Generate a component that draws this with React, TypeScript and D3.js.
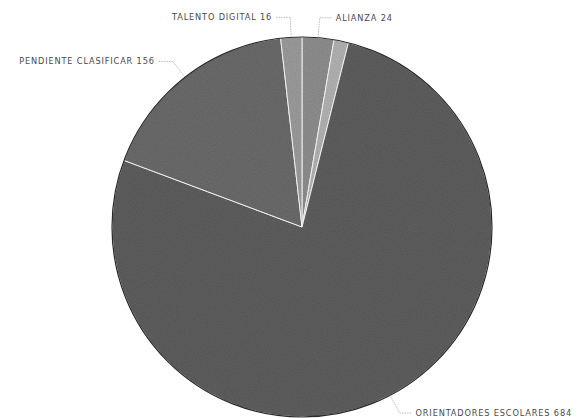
import React from "react";
import * as d3 from "d3";

const categories = ["ALIANZA", "OTROS", "ORIENTADORES ESCOLARES", "PENDIENTE CLASIFICAR", "TALENTO DIGITAL"];
const values = [24, 11, 684, 156, 16];
const showLabel = [true, false, true, true, true];
const colors = ["#939393", "#b8b8b8", "#626262", "#6e6e6e", "#a0a0a0"];

const W = 579;
const H = 418;
const cx = 302;
const cy = 227;
const R = 190;

export default function App() {
  const data = categories.map((c, i) => ({ name: c, value: values[i], i }));
  const pie = d3.pie<any>().value((d) => d.value).sort(null);
  const arcs = pie(data);
  const arc = d3.arc<any>().innerRadius(0).outerRadius(R);
  const outer = 210;
  return (
    <div style={{ position: "absolute", left: 0, top: 0, width: W, height: H, background: "#fff" }}>
      <svg width={W} height={H} style={{ display: "block" }}>
        <defs>
          <filter id="grain" x="0" y="0" width="100%" height="100%">
            <feTurbulence type="fractalNoise" baseFrequency="0.9" numOctaves="1" seed="3" result="n" />
            <feColorMatrix in="n" type="matrix" values="0 0 0 0 0  0 0 0 0 0  0 0 0 0 0  0 0 0 0.3 0" result="na" />
            <feComposite in="na" in2="SourceGraphic" operator="in" result="nc" />
            <feMerge>
              <feMergeNode in="SourceGraphic" />
              <feMergeNode in="nc" />
            </feMerge>
          </filter>
        </defs>
        <g transform={`translate(${cx},${cy})`}>
          <g filter="url(#grain)">
            {arcs.map((a, k) => (
              <path key={k} d={arc(a) as string} fill={colors[a.data.i]} stroke="#fff" strokeWidth={1} />
            ))}
          </g>
          <circle r={R} fill="none" stroke="#2a2a2a" strokeWidth={1.2} />
          {arcs.map((a, k) => {
            if (!showLabel[a.data.i]) return null;
            const mid = (a.startAngle + a.endAngle) / 2;
            const sx = Math.sin(mid) * R;
            const sy = -Math.cos(mid) * R;
            const ex = Math.sin(mid) * outer;
            const ey = -Math.cos(mid) * outer;
            const right = Math.sin(mid) >= 0;
            const hx = ex + (right ? 12 : -14);
            const tx = hx + (right ? 4 : -4);
            return (
              <g key={"l" + k}>
                <polyline
                  points={`${sx},${sy} ${ex},${ey} ${hx},${ey}`}
                  fill="none"
                  stroke="#aaa"
                  strokeWidth={0.8}
                  strokeDasharray="1.5,1"
                />
                <text
                  x={tx}
                  y={ey}
                  dy="0.35em"
                  textAnchor={right ? "start" : "end"}
                  fontFamily="'DejaVu Sans', sans-serif"
                  fontSize={8.2}
                  letterSpacing={0.85}
                  fill="#4a4a4a"
                >
                  {`${a.data.name} ${a.data.value}`}
                </text>
              </g>
            );
          })}
        </g>
      </svg>
    </div>
  );
}
